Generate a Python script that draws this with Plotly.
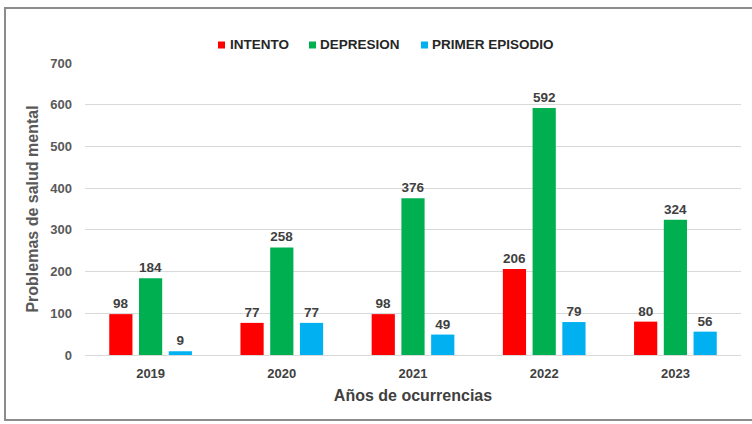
import plotly.graph_objects as go

years = ["2019", "2020", "2021", "2022", "2023"]
intento = [98, 77, 98, 206, 80]
depresion = [184, 258, 376, 592, 324]
primer_episodio = [9, 77, 49, 79, 56]
series_names = ["INTENTO", "DEPRESION", "PRIMER EPISODIO"]
colors = ["#FF0000", "#00B050", "#00B0F0"]

W, H = 752, 424
ML, MR, MT, MB = 85, 11, 63, 69
pw, ph = W - ML - MR, H - MT - MB

def px2paper_x(px):
    return (px - ML) / pw

def px2paper_y(py):
    return (H - MB - py) / ph

FONT = "Liberation Sans"

fig = go.Figure()
for name, vals, col in zip(series_names, [intento, depresion, primer_episodio], colors):
    fig.add_trace(go.Bar(
        x=years, y=vals, name=name, marker=dict(color=col, line=dict(width=0)),
        text=[str(v) for v in vals], textposition="outside", cliponaxis=False,
        textfont=dict(family=FONT, size=13.5, color="#404040", weight="bold"),
        showlegend=False,
    ))

# manual legend (small squares + text), positioned like the original
legend_sq_x = [218, 309, 421]
legend_txt_x = [228, 318, 430]
legend_y = 45
shapes = []
annotations = []
for name, col, sx, tx in zip(series_names, colors, legend_sq_x, legend_txt_x):
    shapes.append(dict(type="rect", xref="paper", yref="paper",
                       x0=px2paper_x(sx), x1=px2paper_x(sx + 7),
                       y0=px2paper_y(legend_y + 3.5), y1=px2paper_y(legend_y - 3.5),
                       fillcolor=col, line=dict(width=0)))
    annotations.append(dict(text=name, xref="paper", yref="paper",
                            x=px2paper_x(tx), y=px2paper_y(legend_y),
                            xanchor="left", yanchor="middle", showarrow=False,
                            font=dict(family=FONT, size=13.5, color="#262626", weight="bold")))

shapes.append(dict(type="rect", xref="paper", yref="paper",
                   x0=px2paper_x(5), x1=px2paper_x(760),
                   y0=px2paper_y(420), y1=px2paper_y(8),
                   line=dict(color="#8C8C8C", width=2), layer="below"))

fig.update_layout(
    width=W, height=H,
    margin=dict(l=ML, r=MR, t=MT, b=MB),
    paper_bgcolor="white", plot_bgcolor="white",
    barmode="group", bargap=0.32, bargroupgap=0.22,
    font=dict(family=FONT, size=13, color="#595959"),
    showlegend=False,
    xaxis=dict(showgrid=False, showline=False, ticks="", ticklabelstandoff=9,
               tickfont=dict(size=13, color="#404040", weight="bold"),
               title=dict(text="Años de ocurrencias", standoff=9,
                          font=dict(size=16, color="#404040", weight="bold"))),
    yaxis=dict(range=[0, 700], dtick=100, showgrid=True, gridcolor="#D9D9D9", gridwidth=1,
               zeroline=True, zerolinecolor="#D9D9D9", zerolinewidth=1, showline=False,
               ticklabelstandoff=12,
               tickfont=dict(size=13, color="#595959", weight="bold"),
               title=dict(text="Problemas de salud mental", standoff=7,
                          font=dict(size=16, color="#595959", weight="bold"))),
    shapes=shapes,
    annotations=annotations,
)

fig.write_html("out.html", config={"displayModeBar": False},
               post_script="document.body.style.margin='0';document.body.style.overflow='hidden';")
